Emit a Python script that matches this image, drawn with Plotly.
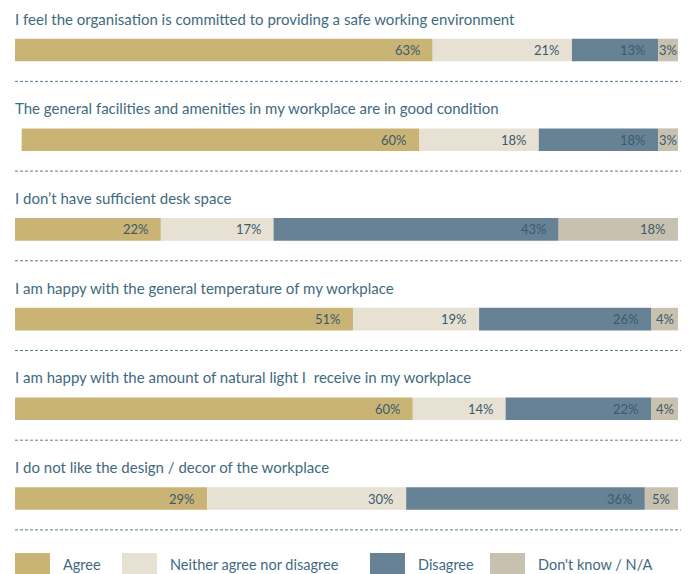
import numpy as np
import plotly.graph_objects as go

# Survey statements and response shares (%)
statements = [
    "I feel the organisation is committed to providing a safe working environment",
    "The general facilities and amenities in my workplace are in good condition",
    "I don’t have sufficient desk space",
    "I am happy with the general temperature of my workplace",
    "I am happy with the amount of natural light I  receive in my workplace",
    "I do not like the design / decor of the workplace",
]
agree = [63, 60, 22, 51, 60, 29]
neither = [21, 18, 17, 19, 14, 30]
disagree = [13, 18, 43, 26, 22, 36]
dont_know = [3, 3, 18, 4, 4, 5]

categories = ["Agree", "Neither agree nor disagree", "Disagree", "Don't know / N/A"]
colors = ["#cab475", "#e7e1d4", "#678295", "#c9c1af"]
series = [agree, neither, disagree, dont_know]

W, H = 692, 574
FONT = "Lato"
TITLE_COLOR = "#3f6a80"
LABEL_COLOR = "#3b5a6b"

# Pixel layout helpers for the vertical axis (rows are numeric positions)
ROW0_PX, ROW_STEP_PX = 50.0, 89.7
y_top = (0 - ROW0_PX) / ROW_STEP_PX
y_bot = (H - ROW0_PX) / ROW_STEP_PX

vals = np.array(series, dtype=float)          # shape (4 categories, 6 rows)
totals = vals.sum(axis=0)
offsets = 100 - totals                         # bars are right-aligned at 100
starts = offsets + np.vstack([np.zeros(vals.shape[1]), np.cumsum(vals, axis=0)[:-1]])
ends = starts + vals
rows = np.arange(len(statements))

fig = go.Figure()
for k, name in enumerate(categories):
    fig.add_trace(go.Bar(
        orientation="h", y=rows, x=vals[k], base=starts[k],
        width=0.252, marker=dict(color=colors[k], line=dict(width=0)),
        name=name, showlegend=False, hoverinfo="skip",
    ))

annotations = []
shapes = []
# value labels
for k in range(len(categories)):
    for i in rows:
        v = vals[k, i]
        if v >= 8:
            annotations.append(dict(x=ends[k, i], y=i, xref="x", yref="y", text=f"{int(v)}%",
                                    xanchor="right", xshift=-10, showarrow=False,
                                    font=dict(family=FONT, size=13, color=LABEL_COLOR)))
        else:
            annotations.append(dict(x=(starts[k, i] + ends[k, i]) / 2, y=i, xref="x", yref="y",
                                    text=f"{int(v)}%", xanchor="center", showarrow=False,
                                    font=dict(family=FONT, size=13, color=LABEL_COLOR)))
# statement titles and dotted separators
for i, s in enumerate(statements):
    annotations.append(dict(x=13 / W, y=i - 0.35, xref="paper", yref="y", text=s,
                            xanchor="left", yanchor="middle", showarrow=False,
                            font=dict(family=FONT, size=15, color=TITLE_COLOR)))
    shapes.append(dict(type="line", xref="paper", yref="y", x0=15 / W, x1=681 / W,
                       y0=i + 0.35, y1=i + 0.35,
                       line=dict(color="#5a7d92", width=1, dash="3px,2px")))

# legend swatches
legend_x = [15, 122, 370, 490]
for k, name in enumerate(categories):
    x0 = legend_x[k]
    shapes.append(dict(type="rect", xref="paper", yref="paper",
                       x0=x0 / W, x1=(x0 + 35) / W, y0=1 - 575 / H, y1=1 - 553 / H,
                       fillcolor=colors[k], line=dict(width=0)))
    annotations.append(dict(x=(x0 + 46) / W, y=1 - 564.5 / H, xref="paper", yref="paper",
                            text=name, xanchor="left", yanchor="middle", showarrow=False,
                            font=dict(family=FONT, size=14.5, color=TITLE_COLOR)))

fig.update_layout(
    width=W, height=H, margin=dict(l=0, r=0, t=0, b=0),
    paper_bgcolor="white", plot_bgcolor="white",
    barmode="overlay",
    xaxis=dict(domain=[15 / W, 678 / W], range=[0, 100], visible=False, fixedrange=True),
    yaxis=dict(range=[y_bot, y_top], visible=False, fixedrange=True),
    annotations=annotations, shapes=shapes,
)

fig.write_html("out.html")
